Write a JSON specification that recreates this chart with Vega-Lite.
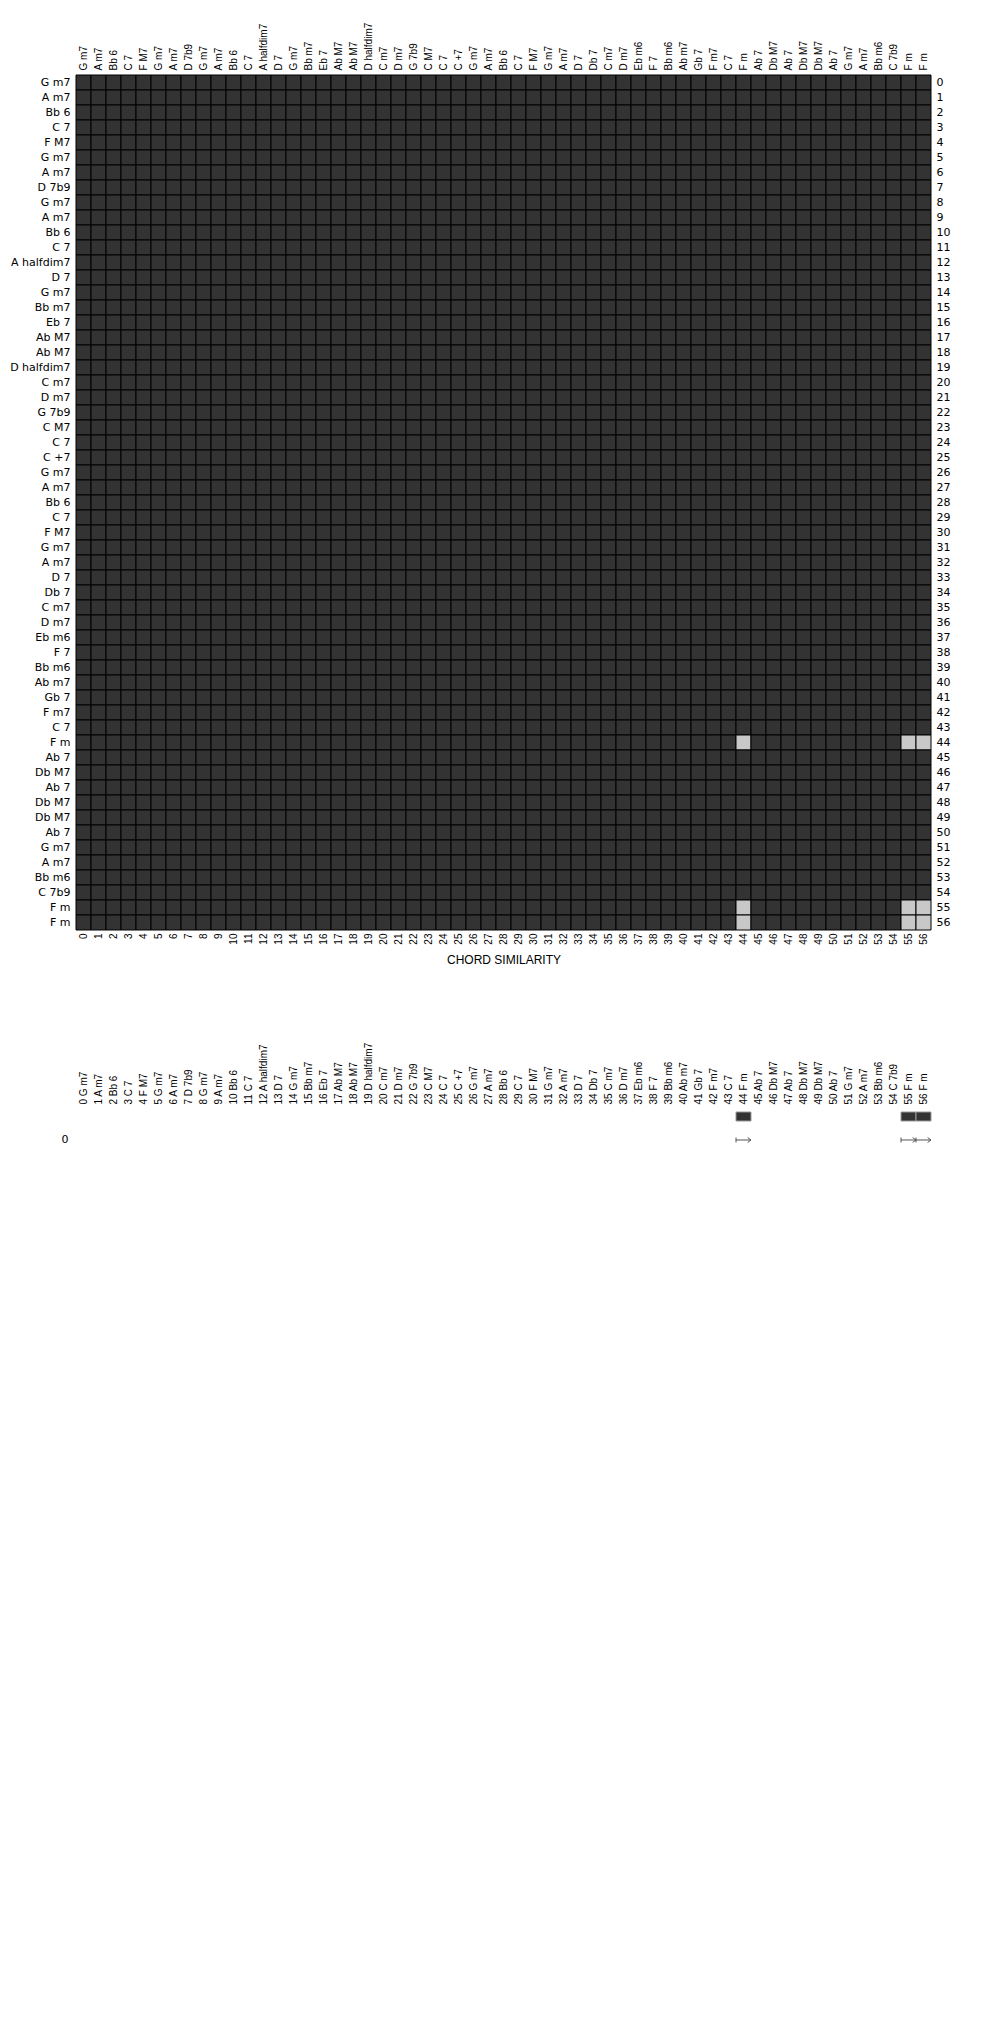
{
 "$schema": "https://vega.github.io/schema/vega-lite/v6.json",
 "padding": {"left": 9, "top": 22, "right": 5, "bottom": 5},
 "background": "white",
 "spacing": 76,
 "config": {
  "view": {"stroke": null},
  "axis": {"ticks": false, "domain": false, "grid": false, "labelColor": "#000000", "labelFont": "DejaVu Sans", "labelFontSize": 11, "labelOverlap": false, "labelBound": false, "labelFlush": false, "labelLimit": 300, "titleFont": "Liberation Sans", "titleFontSize": 12, "titleFontWeight": "normal", "titleColor": "#000000"}
 },
 "datasets": {
  "chords": [
   {"i":0,"k":"0 G m7","m":0},{"i":1,"k":"1 A m7","m":0},{"i":2,"k":"2 Bb 6","m":0},{"i":3,"k":"3 C 7","m":0},{"i":4,"k":"4 F M7","m":0},
   {"i":5,"k":"5 G m7","m":0},{"i":6,"k":"6 A m7","m":0},{"i":7,"k":"7 D 7b9","m":0},{"i":8,"k":"8 G m7","m":0},{"i":9,"k":"9 A m7","m":0},
   {"i":10,"k":"10 Bb 6","m":0},{"i":11,"k":"11 C 7","m":0},{"i":12,"k":"12 A halfdim7","m":0},{"i":13,"k":"13 D 7","m":0},{"i":14,"k":"14 G m7","m":0},
   {"i":15,"k":"15 Bb m7","m":0},{"i":16,"k":"16 Eb 7","m":0},{"i":17,"k":"17 Ab M7","m":0},{"i":18,"k":"18 Ab M7","m":0},{"i":19,"k":"19 D halfdim7","m":0},
   {"i":20,"k":"20 C m7","m":0},{"i":21,"k":"21 D m7","m":0},{"i":22,"k":"22 G 7b9","m":0},{"i":23,"k":"23 C M7","m":0},{"i":24,"k":"24 C 7","m":0},
   {"i":25,"k":"25 C +7","m":0},{"i":26,"k":"26 G m7","m":0},{"i":27,"k":"27 A m7","m":0},{"i":28,"k":"28 Bb 6","m":0},{"i":29,"k":"29 C 7","m":0},
   {"i":30,"k":"30 F M7","m":0},{"i":31,"k":"31 G m7","m":0},{"i":32,"k":"32 A m7","m":0},{"i":33,"k":"33 D 7","m":0},{"i":34,"k":"34 Db 7","m":0},
   {"i":35,"k":"35 C m7","m":0},{"i":36,"k":"36 D m7","m":0},{"i":37,"k":"37 Eb m6","m":0},{"i":38,"k":"38 F 7","m":0},{"i":39,"k":"39 Bb m6","m":0},
   {"i":40,"k":"40 Ab m7","m":0},{"i":41,"k":"41 Gb 7","m":0},{"i":42,"k":"42 F m7","m":0},{"i":43,"k":"43 C 7","m":0},{"i":44,"k":"44 F m","m":1},
   {"i":45,"k":"45 Ab 7","m":0},{"i":46,"k":"46 Db M7","m":0},{"i":47,"k":"47 Ab 7","m":0},{"i":48,"k":"48 Db M7","m":0},{"i":49,"k":"49 Db M7","m":0},
   {"i":50,"k":"50 Ab 7","m":0},{"i":51,"k":"51 G m7","m":0},{"i":52,"k":"52 A m7","m":0},{"i":53,"k":"53 Bb m6","m":0},{"i":54,"k":"54 C 7b9","m":0},
   {"i":55,"k":"55 F m","m":1},{"i":56,"k":"56 F m","m":1}
  ],
  "sim": [
   {"r":0,"c":[0,1,2,3,4,5,6,7,8,9,10,11,12,13,14,15,16,17,18,19,20,21,22,23,24,25,26,27,28,29,30,31,32,33,34,35,36,37,38,39,40,41,42,43,44,45,46,47,48,49,50,51,52,53,54,55,56],"s":[0,0,0,0,0,0,0,0,0,0,0,0,0,0,0,0,0,0,0,0,0,0,0,0,0,0,0,0,0,0,0,0,0,0,0,0,0,0,0,0,0,0,0,0,0,0,0,0,0,0,0,0,0,0,0,0,0]},
   {"r":1,"c":[0,1,2,3,4,5,6,7,8,9,10,11,12,13,14,15,16,17,18,19,20,21,22,23,24,25,26,27,28,29,30,31,32,33,34,35,36,37,38,39,40,41,42,43,44,45,46,47,48,49,50,51,52,53,54,55,56],"s":[0,0,0,0,0,0,0,0,0,0,0,0,0,0,0,0,0,0,0,0,0,0,0,0,0,0,0,0,0,0,0,0,0,0,0,0,0,0,0,0,0,0,0,0,0,0,0,0,0,0,0,0,0,0,0,0,0]},
   {"r":2,"c":[0,1,2,3,4,5,6,7,8,9,10,11,12,13,14,15,16,17,18,19,20,21,22,23,24,25,26,27,28,29,30,31,32,33,34,35,36,37,38,39,40,41,42,43,44,45,46,47,48,49,50,51,52,53,54,55,56],"s":[0,0,0,0,0,0,0,0,0,0,0,0,0,0,0,0,0,0,0,0,0,0,0,0,0,0,0,0,0,0,0,0,0,0,0,0,0,0,0,0,0,0,0,0,0,0,0,0,0,0,0,0,0,0,0,0,0]},
   {"r":3,"c":[0,1,2,3,4,5,6,7,8,9,10,11,12,13,14,15,16,17,18,19,20,21,22,23,24,25,26,27,28,29,30,31,32,33,34,35,36,37,38,39,40,41,42,43,44,45,46,47,48,49,50,51,52,53,54,55,56],"s":[0,0,0,0,0,0,0,0,0,0,0,0,0,0,0,0,0,0,0,0,0,0,0,0,0,0,0,0,0,0,0,0,0,0,0,0,0,0,0,0,0,0,0,0,0,0,0,0,0,0,0,0,0,0,0,0,0]},
   {"r":4,"c":[0,1,2,3,4,5,6,7,8,9,10,11,12,13,14,15,16,17,18,19,20,21,22,23,24,25,26,27,28,29,30,31,32,33,34,35,36,37,38,39,40,41,42,43,44,45,46,47,48,49,50,51,52,53,54,55,56],"s":[0,0,0,0,0,0,0,0,0,0,0,0,0,0,0,0,0,0,0,0,0,0,0,0,0,0,0,0,0,0,0,0,0,0,0,0,0,0,0,0,0,0,0,0,0,0,0,0,0,0,0,0,0,0,0,0,0]},
   {"r":5,"c":[0,1,2,3,4,5,6,7,8,9,10,11,12,13,14,15,16,17,18,19,20,21,22,23,24,25,26,27,28,29,30,31,32,33,34,35,36,37,38,39,40,41,42,43,44,45,46,47,48,49,50,51,52,53,54,55,56],"s":[0,0,0,0,0,0,0,0,0,0,0,0,0,0,0,0,0,0,0,0,0,0,0,0,0,0,0,0,0,0,0,0,0,0,0,0,0,0,0,0,0,0,0,0,0,0,0,0,0,0,0,0,0,0,0,0,0]},
   {"r":6,"c":[0,1,2,3,4,5,6,7,8,9,10,11,12,13,14,15,16,17,18,19,20,21,22,23,24,25,26,27,28,29,30,31,32,33,34,35,36,37,38,39,40,41,42,43,44,45,46,47,48,49,50,51,52,53,54,55,56],"s":[0,0,0,0,0,0,0,0,0,0,0,0,0,0,0,0,0,0,0,0,0,0,0,0,0,0,0,0,0,0,0,0,0,0,0,0,0,0,0,0,0,0,0,0,0,0,0,0,0,0,0,0,0,0,0,0,0]},
   {"r":7,"c":[0,1,2,3,4,5,6,7,8,9,10,11,12,13,14,15,16,17,18,19,20,21,22,23,24,25,26,27,28,29,30,31,32,33,34,35,36,37,38,39,40,41,42,43,44,45,46,47,48,49,50,51,52,53,54,55,56],"s":[0,0,0,0,0,0,0,0,0,0,0,0,0,0,0,0,0,0,0,0,0,0,0,0,0,0,0,0,0,0,0,0,0,0,0,0,0,0,0,0,0,0,0,0,0,0,0,0,0,0,0,0,0,0,0,0,0]},
   {"r":8,"c":[0,1,2,3,4,5,6,7,8,9,10,11,12,13,14,15,16,17,18,19,20,21,22,23,24,25,26,27,28,29,30,31,32,33,34,35,36,37,38,39,40,41,42,43,44,45,46,47,48,49,50,51,52,53,54,55,56],"s":[0,0,0,0,0,0,0,0,0,0,0,0,0,0,0,0,0,0,0,0,0,0,0,0,0,0,0,0,0,0,0,0,0,0,0,0,0,0,0,0,0,0,0,0,0,0,0,0,0,0,0,0,0,0,0,0,0]},
   {"r":9,"c":[0,1,2,3,4,5,6,7,8,9,10,11,12,13,14,15,16,17,18,19,20,21,22,23,24,25,26,27,28,29,30,31,32,33,34,35,36,37,38,39,40,41,42,43,44,45,46,47,48,49,50,51,52,53,54,55,56],"s":[0,0,0,0,0,0,0,0,0,0,0,0,0,0,0,0,0,0,0,0,0,0,0,0,0,0,0,0,0,0,0,0,0,0,0,0,0,0,0,0,0,0,0,0,0,0,0,0,0,0,0,0,0,0,0,0,0]},
   {"r":10,"c":[0,1,2,3,4,5,6,7,8,9,10,11,12,13,14,15,16,17,18,19,20,21,22,23,24,25,26,27,28,29,30,31,32,33,34,35,36,37,38,39,40,41,42,43,44,45,46,47,48,49,50,51,52,53,54,55,56],"s":[0,0,0,0,0,0,0,0,0,0,0,0,0,0,0,0,0,0,0,0,0,0,0,0,0,0,0,0,0,0,0,0,0,0,0,0,0,0,0,0,0,0,0,0,0,0,0,0,0,0,0,0,0,0,0,0,0]},
   {"r":11,"c":[0,1,2,3,4,5,6,7,8,9,10,11,12,13,14,15,16,17,18,19,20,21,22,23,24,25,26,27,28,29,30,31,32,33,34,35,36,37,38,39,40,41,42,43,44,45,46,47,48,49,50,51,52,53,54,55,56],"s":[0,0,0,0,0,0,0,0,0,0,0,0,0,0,0,0,0,0,0,0,0,0,0,0,0,0,0,0,0,0,0,0,0,0,0,0,0,0,0,0,0,0,0,0,0,0,0,0,0,0,0,0,0,0,0,0,0]},
   {"r":12,"c":[0,1,2,3,4,5,6,7,8,9,10,11,12,13,14,15,16,17,18,19,20,21,22,23,24,25,26,27,28,29,30,31,32,33,34,35,36,37,38,39,40,41,42,43,44,45,46,47,48,49,50,51,52,53,54,55,56],"s":[0,0,0,0,0,0,0,0,0,0,0,0,0,0,0,0,0,0,0,0,0,0,0,0,0,0,0,0,0,0,0,0,0,0,0,0,0,0,0,0,0,0,0,0,0,0,0,0,0,0,0,0,0,0,0,0,0]},
   {"r":13,"c":[0,1,2,3,4,5,6,7,8,9,10,11,12,13,14,15,16,17,18,19,20,21,22,23,24,25,26,27,28,29,30,31,32,33,34,35,36,37,38,39,40,41,42,43,44,45,46,47,48,49,50,51,52,53,54,55,56],"s":[0,0,0,0,0,0,0,0,0,0,0,0,0,0,0,0,0,0,0,0,0,0,0,0,0,0,0,0,0,0,0,0,0,0,0,0,0,0,0,0,0,0,0,0,0,0,0,0,0,0,0,0,0,0,0,0,0]},
   {"r":14,"c":[0,1,2,3,4,5,6,7,8,9,10,11,12,13,14,15,16,17,18,19,20,21,22,23,24,25,26,27,28,29,30,31,32,33,34,35,36,37,38,39,40,41,42,43,44,45,46,47,48,49,50,51,52,53,54,55,56],"s":[0,0,0,0,0,0,0,0,0,0,0,0,0,0,0,0,0,0,0,0,0,0,0,0,0,0,0,0,0,0,0,0,0,0,0,0,0,0,0,0,0,0,0,0,0,0,0,0,0,0,0,0,0,0,0,0,0]},
   {"r":15,"c":[0,1,2,3,4,5,6,7,8,9,10,11,12,13,14,15,16,17,18,19,20,21,22,23,24,25,26,27,28,29,30,31,32,33,34,35,36,37,38,39,40,41,42,43,44,45,46,47,48,49,50,51,52,53,54,55,56],"s":[0,0,0,0,0,0,0,0,0,0,0,0,0,0,0,0,0,0,0,0,0,0,0,0,0,0,0,0,0,0,0,0,0,0,0,0,0,0,0,0,0,0,0,0,0,0,0,0,0,0,0,0,0,0,0,0,0]},
   {"r":16,"c":[0,1,2,3,4,5,6,7,8,9,10,11,12,13,14,15,16,17,18,19,20,21,22,23,24,25,26,27,28,29,30,31,32,33,34,35,36,37,38,39,40,41,42,43,44,45,46,47,48,49,50,51,52,53,54,55,56],"s":[0,0,0,0,0,0,0,0,0,0,0,0,0,0,0,0,0,0,0,0,0,0,0,0,0,0,0,0,0,0,0,0,0,0,0,0,0,0,0,0,0,0,0,0,0,0,0,0,0,0,0,0,0,0,0,0,0]},
   {"r":17,"c":[0,1,2,3,4,5,6,7,8,9,10,11,12,13,14,15,16,17,18,19,20,21,22,23,24,25,26,27,28,29,30,31,32,33,34,35,36,37,38,39,40,41,42,43,44,45,46,47,48,49,50,51,52,53,54,55,56],"s":[0,0,0,0,0,0,0,0,0,0,0,0,0,0,0,0,0,0,0,0,0,0,0,0,0,0,0,0,0,0,0,0,0,0,0,0,0,0,0,0,0,0,0,0,0,0,0,0,0,0,0,0,0,0,0,0,0]},
   {"r":18,"c":[0,1,2,3,4,5,6,7,8,9,10,11,12,13,14,15,16,17,18,19,20,21,22,23,24,25,26,27,28,29,30,31,32,33,34,35,36,37,38,39,40,41,42,43,44,45,46,47,48,49,50,51,52,53,54,55,56],"s":[0,0,0,0,0,0,0,0,0,0,0,0,0,0,0,0,0,0,0,0,0,0,0,0,0,0,0,0,0,0,0,0,0,0,0,0,0,0,0,0,0,0,0,0,0,0,0,0,0,0,0,0,0,0,0,0,0]},
   {"r":19,"c":[0,1,2,3,4,5,6,7,8,9,10,11,12,13,14,15,16,17,18,19,20,21,22,23,24,25,26,27,28,29,30,31,32,33,34,35,36,37,38,39,40,41,42,43,44,45,46,47,48,49,50,51,52,53,54,55,56],"s":[0,0,0,0,0,0,0,0,0,0,0,0,0,0,0,0,0,0,0,0,0,0,0,0,0,0,0,0,0,0,0,0,0,0,0,0,0,0,0,0,0,0,0,0,0,0,0,0,0,0,0,0,0,0,0,0,0]},
   {"r":20,"c":[0,1,2,3,4,5,6,7,8,9,10,11,12,13,14,15,16,17,18,19,20,21,22,23,24,25,26,27,28,29,30,31,32,33,34,35,36,37,38,39,40,41,42,43,44,45,46,47,48,49,50,51,52,53,54,55,56],"s":[0,0,0,0,0,0,0,0,0,0,0,0,0,0,0,0,0,0,0,0,0,0,0,0,0,0,0,0,0,0,0,0,0,0,0,0,0,0,0,0,0,0,0,0,0,0,0,0,0,0,0,0,0,0,0,0,0]},
   {"r":21,"c":[0,1,2,3,4,5,6,7,8,9,10,11,12,13,14,15,16,17,18,19,20,21,22,23,24,25,26,27,28,29,30,31,32,33,34,35,36,37,38,39,40,41,42,43,44,45,46,47,48,49,50,51,52,53,54,55,56],"s":[0,0,0,0,0,0,0,0,0,0,0,0,0,0,0,0,0,0,0,0,0,0,0,0,0,0,0,0,0,0,0,0,0,0,0,0,0,0,0,0,0,0,0,0,0,0,0,0,0,0,0,0,0,0,0,0,0]},
   {"r":22,"c":[0,1,2,3,4,5,6,7,8,9,10,11,12,13,14,15,16,17,18,19,20,21,22,23,24,25,26,27,28,29,30,31,32,33,34,35,36,37,38,39,40,41,42,43,44,45,46,47,48,49,50,51,52,53,54,55,56],"s":[0,0,0,0,0,0,0,0,0,0,0,0,0,0,0,0,0,0,0,0,0,0,0,0,0,0,0,0,0,0,0,0,0,0,0,0,0,0,0,0,0,0,0,0,0,0,0,0,0,0,0,0,0,0,0,0,0]},
   {"r":23,"c":[0,1,2,3,4,5,6,7,8,9,10,11,12,13,14,15,16,17,18,19,20,21,22,23,24,25,26,27,28,29,30,31,32,33,34,35,36,37,38,39,40,41,42,43,44,45,46,47,48,49,50,51,52,53,54,55,56],"s":[0,0,0,0,0,0,0,0,0,0,0,0,0,0,0,0,0,0,0,0,0,0,0,0,0,0,0,0,0,0,0,0,0,0,0,0,0,0,0,0,0,0,0,0,0,0,0,0,0,0,0,0,0,0,0,0,0]},
   {"r":24,"c":[0,1,2,3,4,5,6,7,8,9,10,11,12,13,14,15,16,17,18,19,20,21,22,23,24,25,26,27,28,29,30,31,32,33,34,35,36,37,38,39,40,41,42,43,44,45,46,47,48,49,50,51,52,53,54,55,56],"s":[0,0,0,0,0,0,0,0,0,0,0,0,0,0,0,0,0,0,0,0,0,0,0,0,0,0,0,0,0,0,0,0,0,0,0,0,0,0,0,0,0,0,0,0,0,0,0,0,0,0,0,0,0,0,0,0,0]},
   {"r":25,"c":[0,1,2,3,4,5,6,7,8,9,10,11,12,13,14,15,16,17,18,19,20,21,22,23,24,25,26,27,28,29,30,31,32,33,34,35,36,37,38,39,40,41,42,43,44,45,46,47,48,49,50,51,52,53,54,55,56],"s":[0,0,0,0,0,0,0,0,0,0,0,0,0,0,0,0,0,0,0,0,0,0,0,0,0,0,0,0,0,0,0,0,0,0,0,0,0,0,0,0,0,0,0,0,0,0,0,0,0,0,0,0,0,0,0,0,0]},
   {"r":26,"c":[0,1,2,3,4,5,6,7,8,9,10,11,12,13,14,15,16,17,18,19,20,21,22,23,24,25,26,27,28,29,30,31,32,33,34,35,36,37,38,39,40,41,42,43,44,45,46,47,48,49,50,51,52,53,54,55,56],"s":[0,0,0,0,0,0,0,0,0,0,0,0,0,0,0,0,0,0,0,0,0,0,0,0,0,0,0,0,0,0,0,0,0,0,0,0,0,0,0,0,0,0,0,0,0,0,0,0,0,0,0,0,0,0,0,0,0]},
   {"r":27,"c":[0,1,2,3,4,5,6,7,8,9,10,11,12,13,14,15,16,17,18,19,20,21,22,23,24,25,26,27,28,29,30,31,32,33,34,35,36,37,38,39,40,41,42,43,44,45,46,47,48,49,50,51,52,53,54,55,56],"s":[0,0,0,0,0,0,0,0,0,0,0,0,0,0,0,0,0,0,0,0,0,0,0,0,0,0,0,0,0,0,0,0,0,0,0,0,0,0,0,0,0,0,0,0,0,0,0,0,0,0,0,0,0,0,0,0,0]},
   {"r":28,"c":[0,1,2,3,4,5,6,7,8,9,10,11,12,13,14,15,16,17,18,19,20,21,22,23,24,25,26,27,28,29,30,31,32,33,34,35,36,37,38,39,40,41,42,43,44,45,46,47,48,49,50,51,52,53,54,55,56],"s":[0,0,0,0,0,0,0,0,0,0,0,0,0,0,0,0,0,0,0,0,0,0,0,0,0,0,0,0,0,0,0,0,0,0,0,0,0,0,0,0,0,0,0,0,0,0,0,0,0,0,0,0,0,0,0,0,0]},
   {"r":29,"c":[0,1,2,3,4,5,6,7,8,9,10,11,12,13,14,15,16,17,18,19,20,21,22,23,24,25,26,27,28,29,30,31,32,33,34,35,36,37,38,39,40,41,42,43,44,45,46,47,48,49,50,51,52,53,54,55,56],"s":[0,0,0,0,0,0,0,0,0,0,0,0,0,0,0,0,0,0,0,0,0,0,0,0,0,0,0,0,0,0,0,0,0,0,0,0,0,0,0,0,0,0,0,0,0,0,0,0,0,0,0,0,0,0,0,0,0]},
   {"r":30,"c":[0,1,2,3,4,5,6,7,8,9,10,11,12,13,14,15,16,17,18,19,20,21,22,23,24,25,26,27,28,29,30,31,32,33,34,35,36,37,38,39,40,41,42,43,44,45,46,47,48,49,50,51,52,53,54,55,56],"s":[0,0,0,0,0,0,0,0,0,0,0,0,0,0,0,0,0,0,0,0,0,0,0,0,0,0,0,0,0,0,0,0,0,0,0,0,0,0,0,0,0,0,0,0,0,0,0,0,0,0,0,0,0,0,0,0,0]},
   {"r":31,"c":[0,1,2,3,4,5,6,7,8,9,10,11,12,13,14,15,16,17,18,19,20,21,22,23,24,25,26,27,28,29,30,31,32,33,34,35,36,37,38,39,40,41,42,43,44,45,46,47,48,49,50,51,52,53,54,55,56],"s":[0,0,0,0,0,0,0,0,0,0,0,0,0,0,0,0,0,0,0,0,0,0,0,0,0,0,0,0,0,0,0,0,0,0,0,0,0,0,0,0,0,0,0,0,0,0,0,0,0,0,0,0,0,0,0,0,0]},
   {"r":32,"c":[0,1,2,3,4,5,6,7,8,9,10,11,12,13,14,15,16,17,18,19,20,21,22,23,24,25,26,27,28,29,30,31,32,33,34,35,36,37,38,39,40,41,42,43,44,45,46,47,48,49,50,51,52,53,54,55,56],"s":[0,0,0,0,0,0,0,0,0,0,0,0,0,0,0,0,0,0,0,0,0,0,0,0,0,0,0,0,0,0,0,0,0,0,0,0,0,0,0,0,0,0,0,0,0,0,0,0,0,0,0,0,0,0,0,0,0]},
   {"r":33,"c":[0,1,2,3,4,5,6,7,8,9,10,11,12,13,14,15,16,17,18,19,20,21,22,23,24,25,26,27,28,29,30,31,32,33,34,35,36,37,38,39,40,41,42,43,44,45,46,47,48,49,50,51,52,53,54,55,56],"s":[0,0,0,0,0,0,0,0,0,0,0,0,0,0,0,0,0,0,0,0,0,0,0,0,0,0,0,0,0,0,0,0,0,0,0,0,0,0,0,0,0,0,0,0,0,0,0,0,0,0,0,0,0,0,0,0,0]},
   {"r":34,"c":[0,1,2,3,4,5,6,7,8,9,10,11,12,13,14,15,16,17,18,19,20,21,22,23,24,25,26,27,28,29,30,31,32,33,34,35,36,37,38,39,40,41,42,43,44,45,46,47,48,49,50,51,52,53,54,55,56],"s":[0,0,0,0,0,0,0,0,0,0,0,0,0,0,0,0,0,0,0,0,0,0,0,0,0,0,0,0,0,0,0,0,0,0,0,0,0,0,0,0,0,0,0,0,0,0,0,0,0,0,0,0,0,0,0,0,0]},
   {"r":35,"c":[0,1,2,3,4,5,6,7,8,9,10,11,12,13,14,15,16,17,18,19,20,21,22,23,24,25,26,27,28,29,30,31,32,33,34,35,36,37,38,39,40,41,42,43,44,45,46,47,48,49,50,51,52,53,54,55,56],"s":[0,0,0,0,0,0,0,0,0,0,0,0,0,0,0,0,0,0,0,0,0,0,0,0,0,0,0,0,0,0,0,0,0,0,0,0,0,0,0,0,0,0,0,0,0,0,0,0,0,0,0,0,0,0,0,0,0]},
   {"r":36,"c":[0,1,2,3,4,5,6,7,8,9,10,11,12,13,14,15,16,17,18,19,20,21,22,23,24,25,26,27,28,29,30,31,32,33,34,35,36,37,38,39,40,41,42,43,44,45,46,47,48,49,50,51,52,53,54,55,56],"s":[0,0,0,0,0,0,0,0,0,0,0,0,0,0,0,0,0,0,0,0,0,0,0,0,0,0,0,0,0,0,0,0,0,0,0,0,0,0,0,0,0,0,0,0,0,0,0,0,0,0,0,0,0,0,0,0,0]},
   {"r":37,"c":[0,1,2,3,4,5,6,7,8,9,10,11,12,13,14,15,16,17,18,19,20,21,22,23,24,25,26,27,28,29,30,31,32,33,34,35,36,37,38,39,40,41,42,43,44,45,46,47,48,49,50,51,52,53,54,55,56],"s":[0,0,0,0,0,0,0,0,0,0,0,0,0,0,0,0,0,0,0,0,0,0,0,0,0,0,0,0,0,0,0,0,0,0,0,0,0,0,0,0,0,0,0,0,0,0,0,0,0,0,0,0,0,0,0,0,0]},
   {"r":38,"c":[0,1,2,3,4,5,6,7,8,9,10,11,12,13,14,15,16,17,18,19,20,21,22,23,24,25,26,27,28,29,30,31,32,33,34,35,36,37,38,39,40,41,42,43,44,45,46,47,48,49,50,51,52,53,54,55,56],"s":[0,0,0,0,0,0,0,0,0,0,0,0,0,0,0,0,0,0,0,0,0,0,0,0,0,0,0,0,0,0,0,0,0,0,0,0,0,0,0,0,0,0,0,0,0,0,0,0,0,0,0,0,0,0,0,0,0]},
   {"r":39,"c":[0,1,2,3,4,5,6,7,8,9,10,11,12,13,14,15,16,17,18,19,20,21,22,23,24,25,26,27,28,29,30,31,32,33,34,35,36,37,38,39,40,41,42,43,44,45,46,47,48,49,50,51,52,53,54,55,56],"s":[0,0,0,0,0,0,0,0,0,0,0,0,0,0,0,0,0,0,0,0,0,0,0,0,0,0,0,0,0,0,0,0,0,0,0,0,0,0,0,0,0,0,0,0,0,0,0,0,0,0,0,0,0,0,0,0,0]},
   {"r":40,"c":[0,1,2,3,4,5,6,7,8,9,10,11,12,13,14,15,16,17,18,19,20,21,22,23,24,25,26,27,28,29,30,31,32,33,34,35,36,37,38,39,40,41,42,43,44,45,46,47,48,49,50,51,52,53,54,55,56],"s":[0,0,0,0,0,0,0,0,0,0,0,0,0,0,0,0,0,0,0,0,0,0,0,0,0,0,0,0,0,0,0,0,0,0,0,0,0,0,0,0,0,0,0,0,0,0,0,0,0,0,0,0,0,0,0,0,0]},
   {"r":41,"c":[0,1,2,3,4,5,6,7,8,9,10,11,12,13,14,15,16,17,18,19,20,21,22,23,24,25,26,27,28,29,30,31,32,33,34,35,36,37,38,39,40,41,42,43,44,45,46,47,48,49,50,51,52,53,54,55,56],"s":[0,0,0,0,0,0,0,0,0,0,0,0,0,0,0,0,0,0,0,0,0,0,0,0,0,0,0,0,0,0,0,0,0,0,0,0,0,0,0,0,0,0,0,0,0,0,0,0,0,0,0,0,0,0,0,0,0]},
   {"r":42,"c":[0,1,2,3,4,5,6,7,8,9,10,11,12,13,14,15,16,17,18,19,20,21,22,23,24,25,26,27,28,29,30,31,32,33,34,35,36,37,38,39,40,41,42,43,44,45,46,47,48,49,50,51,52,53,54,55,56],"s":[0,0,0,0,0,0,0,0,0,0,0,0,0,0,0,0,0,0,0,0,0,0,0,0,0,0,0,0,0,0,0,0,0,0,0,0,0,0,0,0,0,0,0,0,0,0,0,0,0,0,0,0,0,0,0,0,0]},
   {"r":43,"c":[0,1,2,3,4,5,6,7,8,9,10,11,12,13,14,15,16,17,18,19,20,21,22,23,24,25,26,27,28,29,30,31,32,33,34,35,36,37,38,39,40,41,42,43,44,45,46,47,48,49,50,51,52,53,54,55,56],"s":[0,0,0,0,0,0,0,0,0,0,0,0,0,0,0,0,0,0,0,0,0,0,0,0,0,0,0,0,0,0,0,0,0,0,0,0,0,0,0,0,0,0,0,0,0,0,0,0,0,0,0,0,0,0,0,0,0]},
   {"r":44,"c":[0,1,2,3,4,5,6,7,8,9,10,11,12,13,14,15,16,17,18,19,20,21,22,23,24,25,26,27,28,29,30,31,32,33,34,35,36,37,38,39,40,41,42,43,44,45,46,47,48,49,50,51,52,53,54,55,56],"s":[0,0,0,0,0,0,0,0,0,0,0,0,0,0,0,0,0,0,0,0,0,0,0,0,0,0,0,0,0,0,0,0,0,0,0,0,0,0,0,0,0,0,0,0,1,0,0,0,0,0,0,0,0,0,0,1,1]},
   {"r":45,"c":[0,1,2,3,4,5,6,7,8,9,10,11,12,13,14,15,16,17,18,19,20,21,22,23,24,25,26,27,28,29,30,31,32,33,34,35,36,37,38,39,40,41,42,43,44,45,46,47,48,49,50,51,52,53,54,55,56],"s":[0,0,0,0,0,0,0,0,0,0,0,0,0,0,0,0,0,0,0,0,0,0,0,0,0,0,0,0,0,0,0,0,0,0,0,0,0,0,0,0,0,0,0,0,0,0,0,0,0,0,0,0,0,0,0,0,0]},
   {"r":46,"c":[0,1,2,3,4,5,6,7,8,9,10,11,12,13,14,15,16,17,18,19,20,21,22,23,24,25,26,27,28,29,30,31,32,33,34,35,36,37,38,39,40,41,42,43,44,45,46,47,48,49,50,51,52,53,54,55,56],"s":[0,0,0,0,0,0,0,0,0,0,0,0,0,0,0,0,0,0,0,0,0,0,0,0,0,0,0,0,0,0,0,0,0,0,0,0,0,0,0,0,0,0,0,0,0,0,0,0,0,0,0,0,0,0,0,0,0]},
   {"r":47,"c":[0,1,2,3,4,5,6,7,8,9,10,11,12,13,14,15,16,17,18,19,20,21,22,23,24,25,26,27,28,29,30,31,32,33,34,35,36,37,38,39,40,41,42,43,44,45,46,47,48,49,50,51,52,53,54,55,56],"s":[0,0,0,0,0,0,0,0,0,0,0,0,0,0,0,0,0,0,0,0,0,0,0,0,0,0,0,0,0,0,0,0,0,0,0,0,0,0,0,0,0,0,0,0,0,0,0,0,0,0,0,0,0,0,0,0,0]},
   {"r":48,"c":[0,1,2,3,4,5,6,7,8,9,10,11,12,13,14,15,16,17,18,19,20,21,22,23,24,25,26,27,28,29,30,31,32,33,34,35,36,37,38,39,40,41,42,43,44,45,46,47,48,49,50,51,52,53,54,55,56],"s":[0,0,0,0,0,0,0,0,0,0,0,0,0,0,0,0,0,0,0,0,0,0,0,0,0,0,0,0,0,0,0,0,0,0,0,0,0,0,0,0,0,0,0,0,0,0,0,0,0,0,0,0,0,0,0,0,0]},
   {"r":49,"c":[0,1,2,3,4,5,6,7,8,9,10,11,12,13,14,15,16,17,18,19,20,21,22,23,24,25,26,27,28,29,30,31,32,33,34,35,36,37,38,39,40,41,42,43,44,45,46,47,48,49,50,51,52,53,54,55,56],"s":[0,0,0,0,0,0,0,0,0,0,0,0,0,0,0,0,0,0,0,0,0,0,0,0,0,0,0,0,0,0,0,0,0,0,0,0,0,0,0,0,0,0,0,0,0,0,0,0,0,0,0,0,0,0,0,0,0]},
   {"r":50,"c":[0,1,2,3,4,5,6,7,8,9,10,11,12,13,14,15,16,17,18,19,20,21,22,23,24,25,26,27,28,29,30,31,32,33,34,35,36,37,38,39,40,41,42,43,44,45,46,47,48,49,50,51,52,53,54,55,56],"s":[0,0,0,0,0,0,0,0,0,0,0,0,0,0,0,0,0,0,0,0,0,0,0,0,0,0,0,0,0,0,0,0,0,0,0,0,0,0,0,0,0,0,0,0,0,0,0,0,0,0,0,0,0,0,0,0,0]},
   {"r":51,"c":[0,1,2,3,4,5,6,7,8,9,10,11,12,13,14,15,16,17,18,19,20,21,22,23,24,25,26,27,28,29,30,31,32,33,34,35,36,37,38,39,40,41,42,43,44,45,46,47,48,49,50,51,52,53,54,55,56],"s":[0,0,0,0,0,0,0,0,0,0,0,0,0,0,0,0,0,0,0,0,0,0,0,0,0,0,0,0,0,0,0,0,0,0,0,0,0,0,0,0,0,0,0,0,0,0,0,0,0,0,0,0,0,0,0,0,0]},
   {"r":52,"c":[0,1,2,3,4,5,6,7,8,9,10,11,12,13,14,15,16,17,18,19,20,21,22,23,24,25,26,27,28,29,30,31,32,33,34,35,36,37,38,39,40,41,42,43,44,45,46,47,48,49,50,51,52,53,54,55,56],"s":[0,0,0,0,0,0,0,0,0,0,0,0,0,0,0,0,0,0,0,0,0,0,0,0,0,0,0,0,0,0,0,0,0,0,0,0,0,0,0,0,0,0,0,0,0,0,0,0,0,0,0,0,0,0,0,0,0]},
   {"r":53,"c":[0,1,2,3,4,5,6,7,8,9,10,11,12,13,14,15,16,17,18,19,20,21,22,23,24,25,26,27,28,29,30,31,32,33,34,35,36,37,38,39,40,41,42,43,44,45,46,47,48,49,50,51,52,53,54,55,56],"s":[0,0,0,0,0,0,0,0,0,0,0,0,0,0,0,0,0,0,0,0,0,0,0,0,0,0,0,0,0,0,0,0,0,0,0,0,0,0,0,0,0,0,0,0,0,0,0,0,0,0,0,0,0,0,0,0,0]},
   {"r":54,"c":[0,1,2,3,4,5,6,7,8,9,10,11,12,13,14,15,16,17,18,19,20,21,22,23,24,25,26,27,28,29,30,31,32,33,34,35,36,37,38,39,40,41,42,43,44,45,46,47,48,49,50,51,52,53,54,55,56],"s":[0,0,0,0,0,0,0,0,0,0,0,0,0,0,0,0,0,0,0,0,0,0,0,0,0,0,0,0,0,0,0,0,0,0,0,0,0,0,0,0,0,0,0,0,0,0,0,0,0,0,0,0,0,0,0,0,0]},
   {"r":55,"c":[0,1,2,3,4,5,6,7,8,9,10,11,12,13,14,15,16,17,18,19,20,21,22,23,24,25,26,27,28,29,30,31,32,33,34,35,36,37,38,39,40,41,42,43,44,45,46,47,48,49,50,51,52,53,54,55,56],"s":[0,0,0,0,0,0,0,0,0,0,0,0,0,0,0,0,0,0,0,0,0,0,0,0,0,0,0,0,0,0,0,0,0,0,0,0,0,0,0,0,0,0,0,0,1,0,0,0,0,0,0,0,0,0,0,1,1]},
   {"r":56,"c":[0,1,2,3,4,5,6,7,8,9,10,11,12,13,14,15,16,17,18,19,20,21,22,23,24,25,26,27,28,29,30,31,32,33,34,35,36,37,38,39,40,41,42,43,44,45,46,47,48,49,50,51,52,53,54,55,56],"s":[0,0,0,0,0,0,0,0,0,0,0,0,0,0,0,0,0,0,0,0,0,0,0,0,0,0,0,0,0,0,0,0,0,0,0,0,0,0,0,0,0,0,0,0,1,0,0,0,0,0,0,0,0,0,0,1,1]}
  ]
 },
 "vconcat": [
  {
   "width": 855,
   "height": 855,
   "data": {"name": "sim"},
   "transform": [
    {"flatten": ["c", "s"]},
    {"lookup": "r", "from": {"data": {"name": "chords"}, "key": "i", "fields": ["k"]}, "as": ["rk"]},
    {"lookup": "c", "from": {"data": {"name": "chords"}, "key": "i", "fields": ["k"]}, "as": ["ck"]}
   ],
   "layer": [
    {
     "mark": {"type": "rect", "stroke": "#000000", "strokeWidth": 1},
     "encoding": {
      "x": {"field": "ck", "type": "ordinal", "sort": {"field": "c", "op": "min"}, "scale": {"paddingInner": 0, "paddingOuter": 0},
            "axis": {"orient": "bottom", "labelExpr": "split(datum.value, ' ')[0]", "labelAngle": 270, "labelFont": "Liberation Sans", "labelFontSize": 10, "labelPadding": 3, "title": "CHORD SIMILARITY", "titlePadding": 10}},
      "y": {"field": "rk", "type": "ordinal", "sort": {"field": "r", "op": "min"}, "scale": {"paddingInner": 0, "paddingOuter": 0},
            "axis": {"orient": "left", "labelExpr": "slice(datum.value, indexof(datum.value, ' ') + 1)", "labelPadding": 6, "title": null}},
      "color": {"field": "s", "type": "ordinal", "scale": {"domain": [0, 1], "range": ["#333333", "#c8c8c8"]}, "legend": null}
     }
    },
    {
     "mark": {"type": "rect", "opacity": 0},
     "encoding": {
      "x": {"field": "ck", "type": "ordinal", "sort": {"field": "c", "op": "min"},
            "axis": {"orient": "top", "labelExpr": "slice(datum.value, indexof(datum.value, ' ') + 1)", "labelAngle": 270, "labelFont": "Liberation Sans", "labelFontSize": 10, "labelPadding": 5, "title": null}},
      "y": {"field": "rk", "type": "ordinal", "sort": {"field": "r", "op": "min"},
            "axis": {"orient": "right", "labelExpr": "split(datum.value, ' ')[0]", "labelPadding": 5, "title": null}}
     }
    }
   ],
   "resolve": {"axis": {"x": "independent", "y": "independent"}}
  },
  {
   "width": 855,
   "height": 38.5,
   "data": {"name": "chords"},
   "encoding": {
    "x": {"field": "k", "type": "ordinal", "sort": {"field": "i", "op": "min"}, "scale": {"paddingInner": 0, "paddingOuter": 0},
          "axis": {"orient": "top", "labelAngle": 270, "labelFont": "Liberation Sans", "labelFontSize": 10, "labelPadding": 5, "title": null}}
   },
   "layer": [
    {
     "mark": {"type": "rect", "opacity": 0}
    },
    {
     "transform": [{"filter": "datum.m == 1"}],
     "mark": {"type": "rect", "height": 9, "fill": "#333333", "stroke": "#9a9a9a", "strokeWidth": 1},
     "encoding": {
      "y": {"datum": "bars", "type": "ordinal", "scale": {"type": "point", "domain": ["bars", "0"], "padding": 0.32},
            "axis": {"orient": "left", "values": ["0"], "labelPadding": 8, "title": null}}
     }
    },
    {
     "transform": [{"filter": "datum.m == 1"}],
     "mark": {"type": "point", "shape": "M-1,-0.33L-1,0.33M-1,0L1,0M0.55,-0.33L1,0L0.55,0.33", "size": 225, "filled": false, "stroke": "#555555", "strokeWidth": 1, "opacity": 1},
     "encoding": {
      "y": {"datum": "0", "type": "ordinal"}
     }
    }
   ]
  }
 ]
}
